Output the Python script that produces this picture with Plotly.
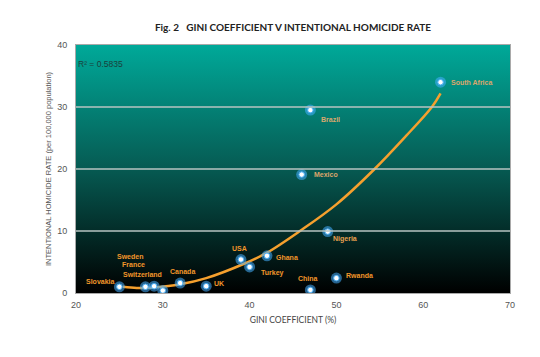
import plotly.graph_objects as go

countries = ["Slovakia", "Sweden", "France", "Switzerland", "Canada", "UK", "USA",
             "Turkey", "Ghana", "Mexico", "China", "Brazil", "Nigeria", "Rwanda", "South Africa"]
gini = [25, 28, 29, 30, 32, 35, 39, 40, 42, 46, 47, 47, 49, 50, 62]
homicide = [1.0, 1.0, 1.1, 0.4, 1.6, 1.1, 5.4, 4.2, 6.0, 19.1, 0.5, 29.5, 9.9, 2.4, 34.0]

# trendline (polynomial, as drawn in the reference)
trend_x = [25.4, 27.0, 29.0, 32.0, 35.0, 39.5, 42.0, 45.8, 50.0, 54.4, 58.0, 61.0, 62.0]
trend_y = [1.0, 0.8, 0.9, 1.4, 2.4, 4.8, 6.5, 10.0, 14.3, 20.0, 25.3, 30.0, 32.2]
r2_text = "R² = 0.5835"

x_ticks = [20, 30, 40, 50, 60, 70]
y_ticks = [0, 10, 20, 30, 40]

# label placement (style): xanchor, xshift px, yshift px (down positive), colour
label_style = {
    "Slovakia": ("right", -2, -5, "#f2962a"),
    "Sweden": ("center", -15, -30, "#f2962a"),
    "France": ("center", -21, -22, "#f2962a"),
    "Switzerland": ("center", -20, -16, "#f2962a"),
    "Canada": ("center", 2, -12, "#f2962a"),
    "UK": ("left", 6, -3, "#f2962a"),
    "USA": ("center", -1, -11, "#f2962a"),
    "Turkey": ("left", 9, 6, "#f2962a"),
    "Ghana": ("left", 7, 2, "#f2962a"),
    "Mexico": ("left", 10, 0, "#dca66c"),
    "China": ("center", -2, -11, "#f2962a"),
    "Brazil": ("left", 9, 9, "#d9a86e"),
    "Nigeria": ("left", 3, 7, "#e8a050"),
    "Rwanda": ("left", 8, -3, "#f2962a"),
    "South Africa": ("left", 8, 0, "#dca66c"),
}

xr = [x_ticks[0], x_ticks[-1]]
yr = [y_ticks[0], y_ticks[-1]]

fig = go.Figure()

# gradient plot background
fig.add_trace(go.Scatter(
    x=[xr[0], xr[1], xr[1], xr[0], xr[0]],
    y=[yr[0], yr[0], yr[1], yr[1], yr[0]],
    mode="none", fill="toself", hoverinfo="skip", showlegend=False,
    fillgradient=dict(type="vertical", start=yr[0], stop=yr[1],
                      colorscale=[[0, "#000000"], [0.5, "#065a52"], [1, "#00a999"]]),
))

# gridlines drawn over the background
for v in y_ticks[1:-1]:
    fig.add_shape(type="line", xref="x", yref="y", x0=xr[0], x1=xr[1], y0=v, y1=v,
                  line=dict(color="#b9c4c2", width=1.5), layer="above")

fig.add_trace(go.Scatter(x=trend_x, y=trend_y, mode="lines",
                         line=dict(color="#f5a02e", width=2.5, shape="spline", smoothing=1.0),
                         hoverinfo="skip", showlegend=False))

# glowing markers
fig.add_trace(go.Scatter(x=gini, y=homicide, mode="markers", showlegend=False,
                         marker=dict(size=11, color="rgba(70,175,255,0.55)", line=dict(width=0))))
fig.add_trace(go.Scatter(x=gini, y=homicide, mode="markers", showlegend=False,
                         marker=dict(size=5.5, color="#ffffff", line=dict(color="#4aaef5", width=1))))

for c, gx, gy in zip(countries, gini, homicide):
    anc, dx, dy, col = label_style[c]
    fig.add_annotation(x=gx, y=gy, xref="x", yref="y", text=c, showarrow=False,
                       xanchor=anc, yanchor="middle", xshift=dx, yshift=-dy,
                       font=dict(family="Liberation Sans", size=7, color=col, weight="bold"))

fig.add_annotation(x=0, y=0.923, xref="paper", yref="paper", text=r2_text, showarrow=False,
                   xanchor="left", yanchor="middle", xshift=0,
                   font=dict(family="Liberation Sans", size=8.5, color="#1b3f3b"))

# the page body adds an 8px offset; the figure is sized to fit the 540x357 window
W, H, OFF = 540, 357, 8
fig.update_layout(
    width=W - OFF, height=H - OFF,
    margin=dict(l=76 - OFF, r=30, t=45 - OFF, b=64),
    paper_bgcolor="#ffffff", plot_bgcolor="#ffffff",
    title=dict(text="<b>Fig. 2   GINI COEFFICIENT V INTENTIONAL HOMICIDE RATE</b>",
               x=0.5, xref="paper", xanchor="center", y=1 - (27 - OFF) / (H - OFF), yanchor="middle",
               font=dict(family="Lato", size=10, color="#222222")),
    xaxis=dict(range=xr, tickvals=x_ticks, showgrid=False, zeroline=False,
               showline=True, linecolor="#a9a9a9", linewidth=1, mirror=True,
               ticks="outside", ticklen=3, tickcolor="rgba(0,0,0,0)",
               tickfont=dict(family="Liberation Sans", size=9, color="#555555"),
               title=dict(text="GINI COEFFICIENT (%)", standoff=8,
                          font=dict(family="Lato", size=8.5, color="#444444"))),
    yaxis=dict(range=yr, tickvals=y_ticks, showgrid=False, zeroline=False,
               showline=True, linecolor="#a9a9a9", linewidth=1, mirror=True,
               ticks="outside", ticklen=6, tickcolor="rgba(0,0,0,0)",
               tickfont=dict(family="Liberation Sans", size=9, color="#555555"),
               title=dict(text="INTENTIONAL HOMICIDE RATE (per 100,000 population)", standoff=4,
                          font=dict(family="Liberation Sans", size=7.5, color="#555555"))),
)

fig.write_html("out.html")
